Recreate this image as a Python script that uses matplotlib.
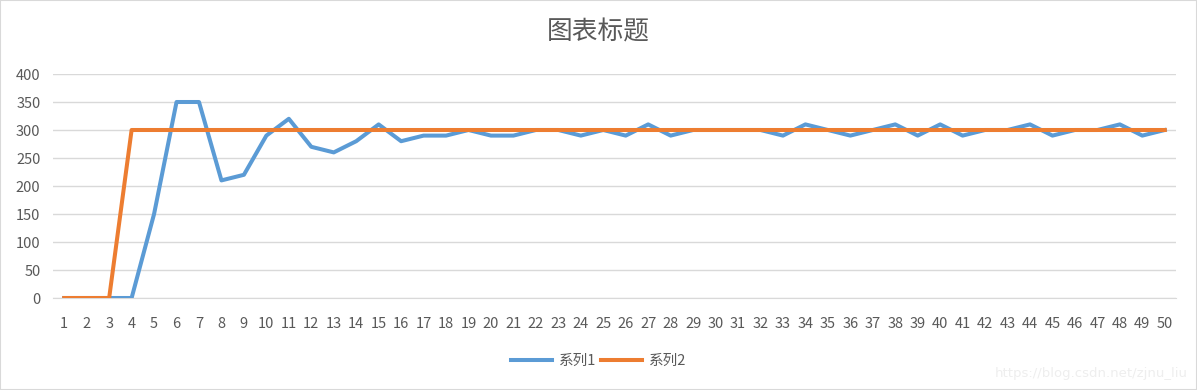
import matplotlib
matplotlib.use('Agg')
import matplotlib.pyplot as plt
from matplotlib.patches import Rectangle

plt.rcParams['font.family'] = ['Noto Sans CJK SC', 'DejaVu Sans']

# 数据
x = list(range(1, 51))
series1 = [0, 0, 0, 0, 150, 350, 350, 210, 220, 290,
           320, 270, 260, 280, 310, 280, 290, 290, 300, 290,
           290, 300, 300, 290, 300, 290, 310, 290, 300, 300,
           300, 300, 290, 310, 300, 290, 300, 310, 290, 310,
           290, 300, 300, 310, 290, 300, 300, 310, 290, 300]
series2 = [0, 0, 0] + [300] * 47
yticks = [0, 50, 100, 150, 200, 250, 300, 350, 400]

text_color = '#595959'
grid_color = '#D9D9D9'

fig = plt.figure(figsize=(11.97, 3.90), dpi=100)
ax = fig.add_axes([53 / 1197, 92 / 390, 1123 / 1197, 224 / 390])

ax.plot(x, series1, color='#5B9BD5', lw=2.9, label='系列1', solid_joinstyle='round', zorder=3)
ax.plot(x, series2, color='#ED7D31', lw=2.9, label='系列2', solid_joinstyle='round', zorder=4)

ax.set_xlim(0.5, 50.5)
ax.set_ylim(0, 400)
ax.set_xticks(x)
ax.set_xticklabels([str(i) for i in x])
ax.set_yticks(yticks)
ax.yaxis.grid(True, color=grid_color, lw=1)
ax.set_axisbelow(True)
for s in ['top', 'right', 'left']:
    ax.spines[s].set_visible(False)
ax.spines['bottom'].set_color(grid_color)
ax.tick_params(axis='both', length=0, labelsize=10.5, labelcolor=text_color)
ax.tick_params(axis='x', pad=14)
ax.tick_params(axis='y', pad=9)

fig.text(0.5, 1 - 32 / 390, '图表标题', ha='center', va='center', fontsize=18.5,
         color=text_color, fontweight='light')

fig.legend(loc='center', bbox_to_anchor=(0.5, 1 - 361 / 390), ncol=2, frameon=False,
           fontsize=10.5, handlelength=2.8, columnspacing=0.3, handletextpad=0.5,
           labelcolor=text_color)

fig.text(1188 / 1197, 1 - 373 / 390, 'https://blog.csdn.net/zjnu_liu', ha='right', va='center',
         fontsize=9.5, color='#EEEEEE', family=['DejaVu Sans'])

fig.patches.append(Rectangle((0, 0), 1, 1, transform=fig.transFigure, fill=False,
                             edgecolor=grid_color, lw=1.5))

fig.savefig('out.png', dpi=100)
